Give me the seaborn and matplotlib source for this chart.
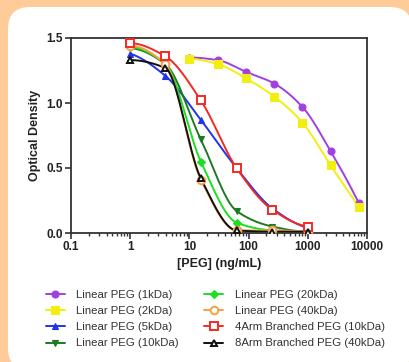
import numpy as np
import pandas as pd
import matplotlib
matplotlib.use("Agg")
import matplotlib.pyplot as plt
import seaborn as sns
from matplotlib.lines import Line2D
from matplotlib.patches import FancyBboxPatch
from matplotlib.ticker import LogLocator, FixedLocator, FuncFormatter

# Dilution series (ng/mL)
conc_short = [10, 30, 90, 270, 810, 2430, 7290]     # 3-fold series for the small PEGs
conc_long = [1, 3.9, 15.6, 62.5, 250, 1000]         # 4-fold series for the rest

# Optical density readings
od_linear_1k = [1.35, 1.33, 1.24, 1.15, 0.97, 0.63, 0.23]
od_linear_2k = [1.34, 1.30, 1.19, 1.05, 0.85, 0.52, 0.20]
od_linear_5k = [1.38, 1.21, 0.87, 0.50, 0.19, 0.04]
od_linear_10k = [1.42, 1.30, 0.72, 0.17, 0.05, 0.01]
od_linear_20k = [1.43, 1.30, 0.55, 0.08, 0.02, 0.01]
od_linear_40k = [1.44, 1.30, 0.41, 0.02, 0.02, 0.01]
od_4arm_10k = [1.46, 1.36, 1.02, 0.50, 0.18, 0.05]
od_8arm_40k = [1.33, 1.27, 0.42, 0.02, 0.01, 0.01]

labels = ["Linear PEG (1kDa)", "Linear PEG (2kDa)", "Linear PEG (5kDa)",
          "Linear PEG (10kDa)", "Linear PEG (20kDa)", "Linear PEG (40kDa)",
          "4Arm Branched PEG (10kDa)", "8Arm Branched PEG (40kDa)"]
concs = [conc_short, conc_short, conc_long, conc_long,
         conc_long, conc_long, conc_long, conc_long]
values = [od_linear_1k, od_linear_2k, od_linear_5k, od_linear_10k,
          od_linear_20k, od_linear_40k, od_4arm_10k, od_8arm_40k]

colors = ["#A23FE0", "#F2EE10", "#2233E8", "#1E7A22",
          "#19E020", "#F7A042", "#F22A22", "#111111"]
markers = ["o", "s", "^", "v", "D", "o", "s", "^"]
hollow = [False, False, False, False, False, True, True, True]
msizes = [5, 5.5, 5, 5, 4, 5.5, 6, 5]


def pchip(x, y, xn):
    """Shape-preserving cubic through the points (x in log space)."""
    x = np.asarray(x, float)
    y = np.asarray(y, float)
    h = np.diff(x)
    d = np.diff(y) / h
    m = np.zeros_like(y)
    for k in range(1, len(x) - 1):
        if d[k - 1] * d[k] > 0:
            w1 = 2 * h[k] + h[k - 1]
            w2 = h[k] + 2 * h[k - 1]
            m[k] = (w1 + w2) / (w1 / d[k - 1] + w2 / d[k])

    def end(h0, h1, d0, d1):
        mm = ((2 * h0 + h1) * d0 - h0 * d1) / (h0 + h1)
        if np.sign(mm) != np.sign(d0):
            mm = 0.0
        elif np.sign(d0) != np.sign(d1) and abs(mm) > abs(3 * d0):
            mm = 3 * d0
        return mm

    m[0] = end(h[0], h[1], d[0], d[1])
    m[-1] = end(h[-1], h[-2], d[-1], d[-2])
    idx = np.clip(np.searchsorted(x, xn) - 1, 0, len(h) - 1)
    t = (xn - x[idx]) / h[idx]
    h00 = 2 * t**3 - 3 * t**2 + 1
    h10 = t**3 - 2 * t**2 + t
    h01 = -2 * t**3 + 3 * t**2
    h11 = t**3 - t**2
    return (h00 * y[idx] + h10 * h[idx] * m[idx]
            + h01 * y[idx + 1] + h11 * h[idx] * m[idx + 1])


# Smooth curves through each series
rows = []
for lab, xc, yc in zip(labels, concs, values):
    lx = np.log10(xc)
    grid = np.linspace(lx[0], lx[-1], 200)
    for gx, gy in zip(grid, pchip(lx, yc, grid)):
        rows.append({"series": lab, "conc": 10**gx, "od": gy})
curves = pd.DataFrame(rows)

sns.set_theme(style="ticks")
plt.rcParams["font.family"] = ["Liberation Sans", "DejaVu Sans"]

W, H = 409, 362
fig = plt.figure(figsize=(W / 100, H / 100), dpi=100, facecolor="#FFCC99")

# White rounded card
card = FancyBboxPatch((8, -8), 404, 363, boxstyle="round,pad=0,rounding_size=22",
                      transform=None, facecolor="white", edgecolor="none", zorder=-10)
fig.patches.append(card)

ax = fig.add_axes([71 / W, 1 - 233 / H, (367 - 71) / W, (233 - 38) / H])
ax.set_facecolor("white")

sns.lineplot(data=curves, x="conc", y="od", hue="series", hue_order=labels,
             palette=colors, estimator=None, sort=False, legend=False,
             linewidth=1.4, ax=ax)

for lab, xc, yc, c, mk, ho, ms in zip(labels, concs, values, colors, markers, hollow, msizes):
    ax.plot(xc, yc, linestyle="none", marker=mk, markersize=ms,
            markerfacecolor="white" if ho else c, markeredgecolor=c,
            markeredgewidth=1.4 if ho else 0.8, zorder=4)

ax.set_xscale("log")
ax.set_xlim(0.1, 10000)
ax.set_ylim(0, 1.5)
ax.xaxis.set_major_locator(LogLocator(base=10, numticks=10))
ax.xaxis.set_minor_locator(LogLocator(base=10, subs=np.arange(2, 10), numticks=20))
ax.xaxis.set_major_formatter(FuncFormatter(lambda v, p: f"{v:g}"))
ax.yaxis.set_major_locator(FixedLocator([0, 0.5, 1.0, 1.5]))
ax.yaxis.set_major_formatter(FuncFormatter(lambda v, p: f"{v:.1f}"))

for s in ax.spines.values():
    s.set_color("#333333")
    s.set_linewidth(1.3)
ax.tick_params(axis="both", which="major", length=4, width=1.2, color="#333333",
               labelsize=8.5, pad=2, labelcolor="#222222")
ax.tick_params(axis="x", which="minor", length=2.5, width=1.0, color="#333333")
for t in ax.get_xticklabels() + ax.get_yticklabels():
    t.set_fontweight("bold")

ax.set_xlabel("[PEG] (ng/mL)", fontsize=9, fontweight="bold", color="#222222", labelpad=3)
ax.set_ylabel("Optical Density", fontsize=9, fontweight="bold", color="#222222", labelpad=4)

handles = [Line2D([0], [0], color=c, lw=1.4, marker=mk, markersize=ms,
                  markerfacecolor="white" if ho else c, markeredgecolor=c,
                  markeredgewidth=1.4 if ho else 0.8)
           for c, mk, ho, ms in zip(colors, markers, hollow, msizes)]
fig.legend(handles, labels, loc="upper left", bbox_to_anchor=(40 / W, 1 - 284 / H),
           ncol=2, frameon=False, fontsize=8.2, handlelength=1.7,
           handletextpad=1.0, columnspacing=2.2, labelspacing=0.55, borderpad=0,
           labelcolor="#333333")

fig.savefig("out.png", dpi=100, facecolor=fig.get_facecolor())
